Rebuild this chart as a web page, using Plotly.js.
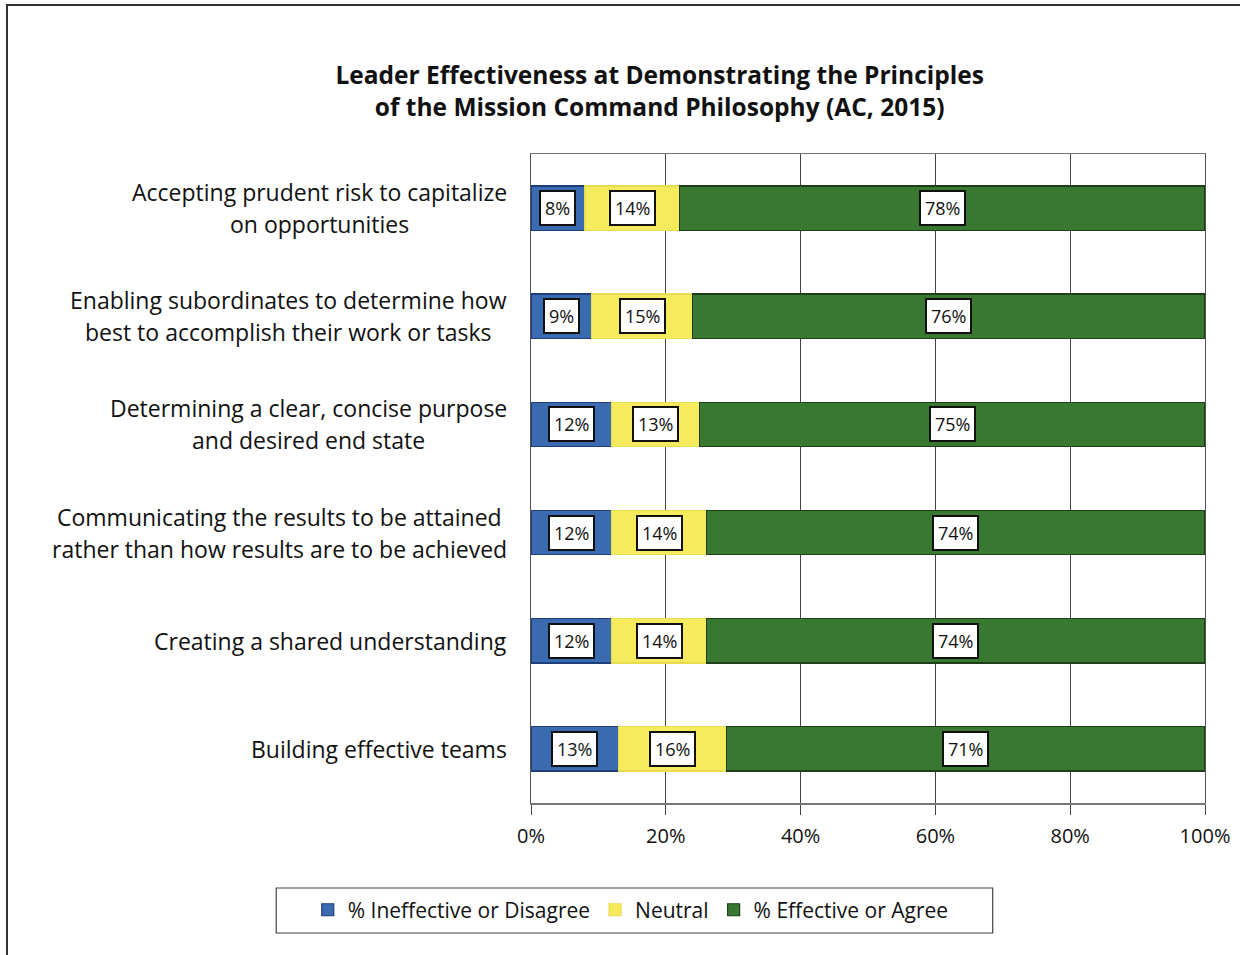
<!DOCTYPE html>
<html>
<head>
<meta charset="utf-8">
<script src="https://cdn.plot.ly/plotly-3.0.1.min.js"></script>
<style>
html,body{margin:0;padding:0;overflow:hidden;background:#fff;}
#chart{position:absolute;left:0;top:0;width:1240px;height:955px;}
#frame{position:absolute;left:6px;top:4px;width:1300px;height:1000px;border:2px solid #333;pointer-events:none;}
</style>
</head>
<body>
<div id="chart"></div>
<div id="frame"></div>
<script>
// ---- data ----
const categories = [
  "Accepting prudent risk to capitalize<br>on opportunities",
  "Enabling subordinates to determine how<br>best to accomplish their work or tasks",
  "Determining a clear, concise purpose<br>and desired end state",
  "Communicating the results to be attained<br>rather than how results are to be achieved",
  "Creating a shared understanding",
  "Building effective teams"
];
const ineffective = [8, 9, 12, 12, 12, 13];
const neutral     = [14, 15, 13, 14, 14, 16];
const effective   = [78, 76, 75, 74, 74, 71];
const seriesNames = ["% Ineffective or Disagree", "Neutral", "% Effective or Agree"];
const xTickVals   = [0, 20, 40, 60, 80, 100];
const xTickText   = ["0%", "20%", "40%", "60%", "80%", "100%"];
const titleText   = "Leader Effectiveness at Demonstrating the Principles<br>of the Mission Command Philosophy (AC, 2015)";

const FONT = "Open Sans, Noto Sans, sans-serif";
const fills = ["#3A6AB0", "#F6EB5C", "#387830"];
const edges = ["#1F3F7A", "#E8DC50", "#1E3E1A"];
const series = [ineffective, neutral, effective];

const traces = series.map((vals, i) => ({
  type: "bar",
  orientation: "h",
  name: seriesNames[i],
  y: categories,
  x: vals,
  marker: {color: fills[i], line: {color: edges[i], width: 1.2}},
  hoverinfo: "skip"
}));

const annotations = [];
// value labels in boxes
categories.forEach((cat, r) => {
  let cum = 0;
  series.forEach((vals, i) => {
    const v = vals[r];
    annotations.push({
      x: cum + v / 2, y: cat, xref: "x", yref: "y",
      text: v + "%", showarrow: false,
      font: {family: FONT, size: 18, color: "#111"},
      bgcolor: "#ffffff", bordercolor: "#111", borderwidth: 2, borderpad: 4
    });
    cum += v;
  });
});
// category labels (centered lines, block right-aligned)
categories.forEach((cat) => {
  const lines = cat.split("<br>");
  const n = lines.length;
  const spacing = 32;
  lines.forEach((ln, k) => {
    annotations.push({
      x: -0.033, y: cat, xref: "paper", yref: "y",
      text: ln, showarrow: false, xanchor: "right", align: "center",
      yshift: ((n - 1) / 2 - k) * spacing,
      font: {family: FONT, size: 23, color: "#111"},
      _block: cat, _line: k
    });
  });
});

const layout = {
  width: 1240, height: 955,
  margin: {l: 531, r: 35, t: 154, b: 152},
  paper_bgcolor: "#ffffff", plot_bgcolor: "#ffffff",
  barmode: "stack",
  bargap: 0.59,
  title: {
    text: titleText,
    font: {family: FONT, size: 24.5, color: "#111", weight: "bold"},
    xref: "container", x: 0.532, xanchor: "center",
    yref: "container", y: 0.912, yanchor: "middle"
  },
  xaxis: {
    range: [0, 100], tickvals: xTickVals, ticktext: xTickText,
    showgrid: true, gridcolor: "#444", gridwidth: 1,
    showline: true, linecolor: "#777", linewidth: 1.5, mirror: true,
    ticks: "outside", ticklen: 10, tickcolor: "#444", tickwidth: 1,
    tickfont: {family: FONT, size: 20, color: "#111"},
    ticklabelstandoff: 4,
    zeroline: false, fixedrange: true
  },
  yaxis: {
    type: "category", autorange: "reversed",
    showticklabels: false, showgrid: false,
    showline: true, linecolor: "#555", linewidth: 1, mirror: true,
    ticks: "", zeroline: false, fixedrange: true
  },
  showlegend: true,
  legend: {
    orientation: "h", x: 0.148, xanchor: "center", y: -0.165, yanchor: "middle",
    xref: "paper", yref: "paper",
    font: {family: FONT, size: 21, color: "#111"},
    bgcolor: "rgba(0,0,0,0)", borderwidth: 0,
    traceorder: "normal", itemwidth: 30
  },
  shapes: [{
    type: "rect", xref: "paper", yref: "paper",
    x0: -0.378, x1: 0.685, y0: -0.131, y1: -0.2003,
    line: {color: "#444", width: 1.2}, fillcolor: "rgba(0,0,0,0)"
  }],
  annotations: annotations.map(a => { const b = Object.assign({}, a); delete b._block; delete b._line; return b; })
};

Plotly.newPlot("chart", traces, layout, {displayModeBar: false, staticPlot: true}).then(gd => {
  // center the lines of each multi-line label within its right-aligned block
  const annEls = gd.querySelectorAll(".annotation");
  const widths = [];
  annEls.forEach((el, idx) => {
    const t = el.querySelector("text");
    widths[idx] = t ? t.getBBox().width : 0;
  });
  const blockMax = {};
  annotations.forEach((a, idx) => {
    if (a._block !== undefined) {
      blockMax[a._block] = Math.max(blockMax[a._block] || 0, widths[idx]);
    }
  });
  const upd = {};
  annotations.forEach((a, idx) => {
    if (a._block !== undefined) {
      const diff = (blockMax[a._block] - widths[idx]) / 2;
      if (diff > 0.5) upd["annotations[" + idx + "].xshift"] = -diff;
    }
  });
  if (Object.keys(upd).length) Plotly.relayout(gd, upd);
});
</script>
</body>
</html>
